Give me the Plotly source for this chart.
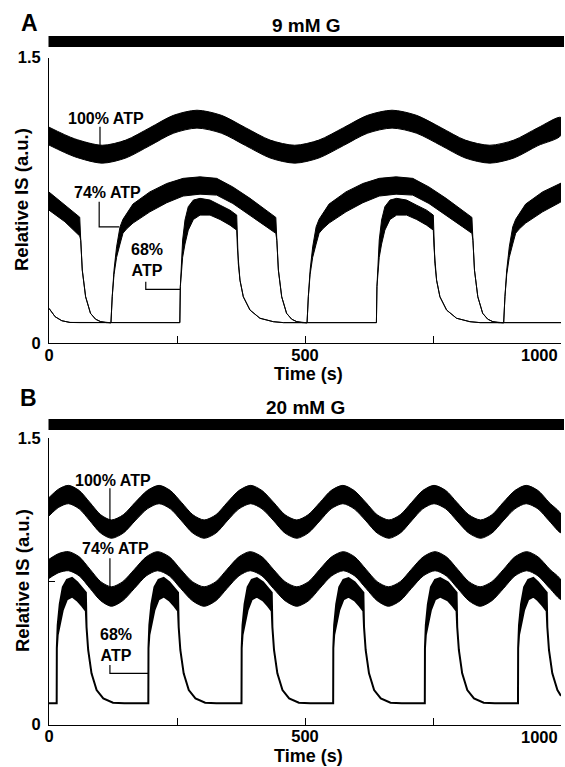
import plotly.graph_objects as go

# ---------------- data ----------------
# Panel A (9 mM G) -- upper / lower envelopes of the fast oscillations
t_a100 = [0, 50, 104, 150, 197, 243, 289, 337, 384, 432, 480, 527, 575, 622, 670, 718, 766, 813, 861, 908, 955, 1000]
hi_a100 = [1.134, 1.073, 1.039, 1.066, 1.131, 1.196, 1.223, 1.196, 1.131, 1.066, 1.039, 1.066, 1.131, 1.196, 1.223, 1.196, 1.131, 1.066, 1.039, 1.066, 1.131, 1.185]
lo_a100 = [1.040, 0.979, 0.945, 0.972, 1.037, 1.102, 1.129, 1.102, 1.037, 0.972, 0.945, 0.972, 1.037, 1.102, 1.129, 1.102, 1.037, 0.972, 0.945, 0.972, 1.037, 1.091]

t_a74 = [0, 31, 60, 62, 65, 71.5, 81, 91, 101, 112, 121,
         123.5, 127, 132, 138.7, 144.5, 151.8, 164, 197, 230, 262, 295, 327.5, 359, 392.6, 425, 443,
         445, 448, 454.5, 464, 474, 484, 495, 504,
         506.5, 510, 515, 521.7, 527.5, 534.8, 547, 580, 613, 645, 678, 710.5, 742, 775.6, 808, 826,
         828, 831, 837.5, 847, 857, 867, 878, 888,
         890.5, 894, 899, 905.7, 911.5, 918.8, 931, 964, 997, 1000]
hi_a74 = [0.793, 0.724, 0.661, 0.54, 0.383, 0.243, 0.156, 0.125, 0.112, 0.107, 0.106,
          0.243, 0.383, 0.505, 0.61, 0.65, 0.681, 0.73, 0.794, 0.838, 0.865, 0.873, 0.865, 0.82, 0.76, 0.698, 0.66,
          0.54, 0.383, 0.243, 0.156, 0.125, 0.112, 0.107, 0.106,
          0.243, 0.383, 0.505, 0.61, 0.65, 0.681, 0.73, 0.794, 0.838, 0.865, 0.873, 0.865, 0.82, 0.76, 0.698, 0.66,
          0.54, 0.383, 0.243, 0.156, 0.125, 0.112, 0.107, 0.106,
          0.243, 0.383, 0.505, 0.61, 0.65, 0.681, 0.73, 0.794, 0.838, 0.840]
lo_a74 = [0.698, 0.637, 0.562, 0.54, 0.383, 0.243, 0.156, 0.125, 0.112, 0.107, 0.106,
          0.243, 0.36, 0.45, 0.52, 0.577, 0.60, 0.63, 0.689, 0.737, 0.772, 0.782, 0.777, 0.733, 0.672, 0.61, 0.576,
          0.54, 0.383, 0.243, 0.156, 0.125, 0.112, 0.107, 0.106,
          0.243, 0.36, 0.45, 0.52, 0.577, 0.60, 0.63, 0.689, 0.737, 0.772, 0.782, 0.777, 0.733, 0.672, 0.61, 0.576,
          0.54, 0.383, 0.243, 0.156, 0.125, 0.112, 0.107, 0.106,
          0.243, 0.36, 0.45, 0.52, 0.577, 0.60, 0.63, 0.689, 0.737, 0.742]

t_a68 = [0, 12, 25, 41, 60, 255.5,
         256.5, 261, 265.6, 272, 282, 295, 314.5, 334, 353.5, 366.6,
         368, 369.7, 373, 379.5, 392.6, 412, 438, 458, 639.5,
         640.5, 645, 649.6, 656, 666, 679, 698.5, 718, 737.5, 750.6,
         752, 753.7, 757, 763.5, 776.6, 796, 822, 842, 1000]
hi_a68 = [0.182, 0.138, 0.117, 0.108, 0.107, 0.107,
          0.296, 0.541, 0.646, 0.716, 0.751, 0.76, 0.751, 0.724, 0.698, 0.672,
          0.50, 0.418, 0.33, 0.243, 0.173, 0.13, 0.112, 0.107, 0.107,
          0.296, 0.541, 0.646, 0.716, 0.751, 0.76, 0.751, 0.724, 0.698, 0.672,
          0.50, 0.418, 0.33, 0.243, 0.173, 0.13, 0.112, 0.107, 0.107]
lo_a68 = [0.182, 0.138, 0.117, 0.108, 0.107, 0.107,
          0.296, 0.45, 0.52, 0.593, 0.649, 0.672, 0.672, 0.649, 0.619, 0.593,
          0.50, 0.418, 0.33, 0.243, 0.173, 0.13, 0.112, 0.107, 0.107,
          0.296, 0.45, 0.52, 0.593, 0.649, 0.672, 0.672, 0.649, 0.619, 0.593,
          0.50, 0.418, 0.33, 0.243, 0.173, 0.13, 0.112, 0.107, 0.107]

# Panel B (20 mM G)
t_b100 = [0, 19, 38, 59, 80, 101, 122, 145, 168, 192, 215, 237, 259, 281, 303, 326, 348, 371, 394, 416,
          439, 461, 484, 506, 529, 551, 574, 596, 619, 641, 664, 686, 708, 730, 752, 775, 797, 820, 843,
          865, 887, 910, 932, 955, 977, 1000]
hi_b100 = [1.188, 1.233, 1.252, 1.225, 1.162, 1.098, 1.071, 1.098, 1.162, 1.225, 1.252, 1.225, 1.162, 1.098,
           1.071, 1.098, 1.162, 1.225, 1.252, 1.225, 1.162, 1.098, 1.071, 1.098, 1.162, 1.225, 1.252, 1.225,
           1.162, 1.098, 1.071, 1.098, 1.162, 1.225, 1.252, 1.225, 1.162, 1.098, 1.071, 1.098, 1.162, 1.225,
           1.252, 1.225, 1.162, 1.100]
lo_b100 = [1.092, 1.137, 1.156, 1.129, 1.066, 1.002, 0.975, 1.002, 1.066, 1.129, 1.156, 1.129, 1.066, 1.002,
           0.975, 1.002, 1.066, 1.129, 1.156, 1.129, 1.066, 1.002, 0.975, 1.002, 1.066, 1.129, 1.156, 1.129,
           1.066, 1.002, 0.975, 1.002, 1.066, 1.129, 1.156, 1.129, 1.066, 1.002, 0.975, 1.002, 1.066, 1.129,
           1.156, 1.129, 1.066, 1.004]

t_b74 = [0, 19, 38, 59, 80, 101, 122, 144, 167, 190, 212, 235, 257, 280, 303, 326, 348, 371, 393, 416,
         438, 461, 484, 507, 529, 552, 575, 597, 619, 641, 663, 686, 708, 731, 754, 776, 798, 820, 842,
         865, 888, 910, 933, 955, 978, 1000]
hi_b74 = [0.865, 0.895, 0.905, 0.878, 0.813, 0.748, 0.721, 0.748, 0.813, 0.878, 0.905, 0.878, 0.813, 0.748,
          0.721, 0.748, 0.813, 0.878, 0.905, 0.878, 0.813, 0.748, 0.721, 0.748, 0.813, 0.878, 0.905, 0.878,
          0.813, 0.748, 0.721, 0.748, 0.813, 0.878, 0.905, 0.878, 0.813, 0.748, 0.721, 0.748, 0.813, 0.878,
          0.905, 0.878, 0.813, 0.755]
lo_b74 = [0.765, 0.795, 0.805, 0.778, 0.713, 0.648, 0.619, 0.648, 0.713, 0.778, 0.805, 0.778, 0.713, 0.648,
          0.619, 0.648, 0.713, 0.778, 0.805, 0.778, 0.713, 0.648, 0.619, 0.648, 0.713, 0.778, 0.805, 0.778,
          0.713, 0.648, 0.619, 0.648, 0.713, 0.778, 0.805, 0.778, 0.713, 0.648, 0.619, 0.648, 0.713, 0.778,
          0.805, 0.778, 0.713, 0.655]

t_b68 = [0, 15, 15.3, 17, 21, 27, 35, 45, 55, 65, 72, 73.3, 76.5, 83, 93, 106, 125, 147,
         194, 194.3, 196, 200, 206, 214, 224, 235, 245, 252, 253.3, 256.5, 263, 273, 286, 305, 327,
         376, 376.3, 378, 382, 388, 396, 406, 418, 428, 435, 436.3, 439.5, 446, 456, 469, 488, 510,
         555, 555.3, 557, 561, 567, 575, 585, 597, 607, 614, 615.3, 618.5, 625, 635, 648, 667, 689,
         734, 734.3, 736, 740, 746, 754, 764, 779, 789, 796, 797.3, 800.5, 807, 817, 830, 849, 871,
         916, 916.3, 918, 922, 928, 936, 946, 955, 965, 972, 973.3, 976.5, 983, 993, 1000]
hi_b68 = [0.111, 0.111, 0.40, 0.52, 0.63, 0.72, 0.757, 0.767, 0.745, 0.715, 0.69, 0.51, 0.39, 0.268, 0.18, 0.137, 0.114, 0.111,
          0.111, 0.40, 0.52, 0.63, 0.72, 0.757, 0.767, 0.745, 0.715, 0.69, 0.51, 0.39, 0.268, 0.18, 0.137, 0.114, 0.111,
          0.111, 0.40, 0.52, 0.63, 0.72, 0.757, 0.767, 0.745, 0.715, 0.69, 0.51, 0.39, 0.268, 0.18, 0.137, 0.114, 0.111,
          0.111, 0.40, 0.52, 0.63, 0.72, 0.757, 0.767, 0.745, 0.715, 0.69, 0.51, 0.39, 0.268, 0.18, 0.137, 0.114, 0.111,
          0.111, 0.40, 0.52, 0.63, 0.72, 0.757, 0.767, 0.745, 0.715, 0.69, 0.51, 0.39, 0.268, 0.18, 0.137, 0.114, 0.111,
          0.111, 0.40, 0.52, 0.63, 0.72, 0.757, 0.767, 0.745, 0.715, 0.69, 0.51, 0.39, 0.268, 0.18, 0.15]
lo_b68 = [0.111, 0.111, 0.40, 0.47, 0.53, 0.60, 0.655, 0.67, 0.65, 0.62, 0.595, 0.51, 0.39, 0.268, 0.18, 0.137, 0.114, 0.111,
          0.111, 0.40, 0.47, 0.53, 0.60, 0.655, 0.67, 0.65, 0.62, 0.595, 0.51, 0.39, 0.268, 0.18, 0.137, 0.114, 0.111,
          0.111, 0.40, 0.47, 0.53, 0.60, 0.655, 0.67, 0.65, 0.62, 0.595, 0.51, 0.39, 0.268, 0.18, 0.137, 0.114, 0.111,
          0.111, 0.40, 0.47, 0.53, 0.60, 0.655, 0.67, 0.65, 0.62, 0.595, 0.51, 0.39, 0.268, 0.18, 0.137, 0.114, 0.111,
          0.111, 0.40, 0.47, 0.53, 0.60, 0.655, 0.67, 0.65, 0.62, 0.595, 0.51, 0.39, 0.268, 0.18, 0.137, 0.114, 0.111,
          0.111, 0.40, 0.47, 0.53, 0.60, 0.655, 0.67, 0.65, 0.62, 0.595, 0.51, 0.39, 0.268, 0.18, 0.15]

x_tickvals = [0, 250, 500, 750, 1000]
x_ticktext = ["0", "", "500", "", ""]
x_end_label = "1000"          # drawn right-aligned at the 1000 tick so it stays inside the page
y_tickvals = [0, 0.75, 1.5]
y_ticktext = ["0", "", "1.5"]

panel_letters = ["A", "B"]
panel_titles = ["9 mM G", "20 mM G"]
series_labels = ["100% ATP", "74% ATP", "68%<br>ATP"]

# label positions (data units) and leader-line vertices per panel
label_pos_a = [(111, 1.178), (115, 0.79), (191, 0.435)]
label_pos_b = [(125.6, 1.28), (129, 0.919), (131, 0.416)]
leaders_a = [[(99.6, 1.136), (99.6, 1.039)],
             [(98, 0.742), (98, 0.61), (137, 0.61)],
             [(189, 0.322), (189, 0.282), (256, 0.282)]]
leaders_b = [[(119, 1.237), (119, 1.071)],
             [(119, 0.870), (119, 0.721)],
             [(119, 0.312), (119, 0.268), (194, 0.268)]]

# ---------------- figure ----------------
W, H = 565, 767
L, R = 49, 4
PW = W - L - R
FONT = "Liberation Sans"


def px_x(px):
    return (px - L) / PW


def px_y(py):
    return 1 - py / H


def band(t, hi, lo, xa, ya, w, shape="linear"):
    x = list(t) + list(t)[::-1]
    y = list(hi) + list(lo)[::-1]
    return go.Scatter(x=x, y=y, mode="lines", fill="toself", fillcolor="black",
                      line=dict(color="black", width=w, shape=shape, smoothing=0.8),
                      xaxis=xa, yaxis=ya, hoverinfo="skip", showlegend=False)


fig = go.Figure()
fig.add_trace(band(t_a100, hi_a100, lo_a100, "x", "y", 1, "spline"))
fig.add_trace(band(t_a74, hi_a74, lo_a74, "x", "y", 1))
fig.add_trace(band(t_a68, hi_a68, lo_a68, "x", "y", 1))
fig.add_trace(band(t_b100, hi_b100, lo_b100, "x2", "y2", 1, "spline"))
fig.add_trace(band(t_b74, hi_b74, lo_b74, "x2", "y2", 1, "spline"))
fig.add_trace(band(t_b68, hi_b68, lo_b68, "x2", "y2", 2))

tickfont = dict(family=FONT, size=16.5, color="black", weight="bold")
xax = dict(range=[0, 1000], showline=True, linecolor="black", linewidth=1, ticks="inside",
           ticklen=7, tickwidth=1, tickcolor="black", showgrid=False, zeroline=False,
           tickvals=x_tickvals, ticktext=x_ticktext, tickfont=tickfont, fixedrange=True,
           ticklabelstandoff=-3)
yax = dict(range=[0, 1.5], showline=True, linecolor="black", linewidth=1, ticks="inside",
           ticklen=6, tickwidth=1, tickcolor="black", showgrid=False, zeroline=False,
           tickvals=y_tickvals, ticktext=y_ticktext, tickfont=tickfont, fixedrange=True,
           ticklabelstandoff=4)

fig.update_layout(
    width=W, height=H, margin=dict(l=L, r=R, t=0, b=0, autoexpand=False),
    plot_bgcolor="white", paper_bgcolor="white", showlegend=False,
    xaxis=dict(xax, domain=[0, 1], anchor="y"),
    yaxis=dict(yax, domain=[px_y(343), px_y(57.5)], anchor="x"),
    xaxis2=dict(xax, domain=[0, 1], anchor="y2"),
    yaxis2=dict(yax, domain=[px_y(724.5), px_y(438)], anchor="x2"),
)

shapes = []
# condition bars
for (ytop, ybot) in [(36, 47), (419, 430)]:
    shapes.append(dict(type="rect", xref="paper", yref="paper", x0=px_x(48.5), x1=px_x(564),
                       y0=px_y(ybot), y1=px_y(ytop), fillcolor="black", line=dict(width=0)))
for leaders, xr, yr in [(leaders_a, "x", "y"), (leaders_b, "x2", "y2")]:
    for pts in leaders:
        path = "M " + " L ".join(f"{x} {y}" for x, y in pts)
        shapes.append(dict(type="path", path=path, xref=xr, yref=yr,
                           line=dict(color="black", width=1.2)))
fig.update_layout(shapes=shapes)

ann = []


def txt(px, py, s, size, angle=0, xanchor="center"):
    ann.append(dict(x=px_x(px), y=px_y(py), xref="paper", yref="paper", text=s, showarrow=False,
                    xanchor=xanchor, yanchor="middle", textangle=angle,
                    font=dict(family=FONT, size=size, color="black", weight="bold")))


txt(29, 22.6, panel_letters[0], 23)
txt(306, 25, panel_titles[0], 19)
txt(28, 398, panel_letters[1], 23)
txt(305, 407, panel_titles[1], 19)
txt(560, 355, x_end_label, 16.5, xanchor="right")
txt(560, 737, x_end_label, 16.5, xanchor="right")
txt(308, 374.5, "Time (s)", 18)
txt(308, 756, "Time (s)", 18)
txt(22, 200, "Relative IS (a.u.)", 18.5, -90)
txt(22, 581, "Relative IS (a.u.)", 18.5, -90)

for pos, xr, yr in [(label_pos_a, "x", "y"), (label_pos_b, "x2", "y2")]:
    for (x, y), s in zip(pos, series_labels):
        ann.append(dict(x=x, y=y, xref=xr, yref=yr, text=s, showarrow=False,
                        xanchor="center", yanchor="middle",
                        font=dict(family=FONT, size=16, color="black", weight="bold")))
fig.update_layout(annotations=ann)

fig.write_html("out.html", config={"displayModeBar": False, "staticPlot": True},
               post_script="document.body.style.margin='0';document.body.style.padding='0';"
                           "document.body.style.overflow='hidden';")
